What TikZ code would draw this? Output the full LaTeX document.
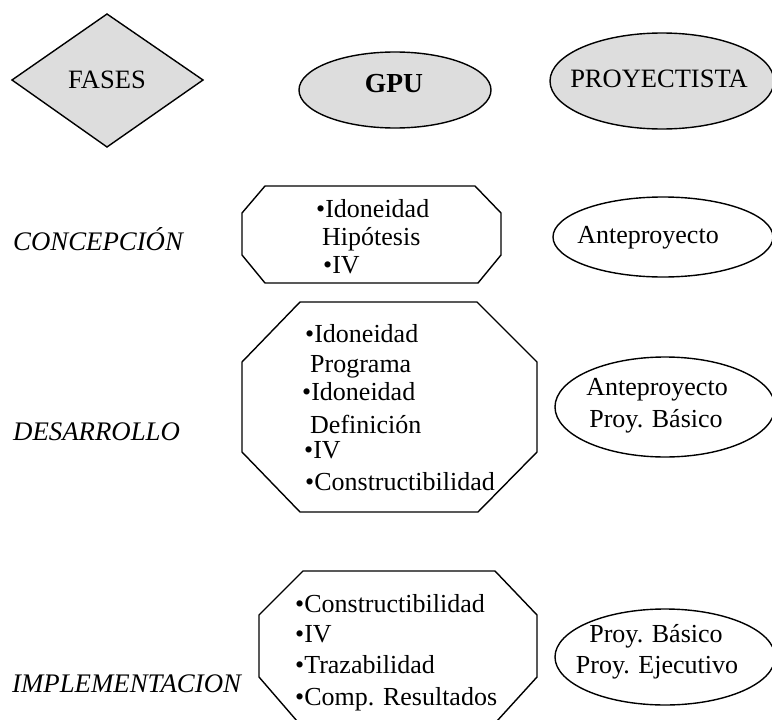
\documentclass[tikz,border=0pt]{standalone}
\usepackage{fontspec}
\setmainfont{Liberation Serif}
\definecolor{shapefill}{RGB}{221,221,221}
\tikzset{
  outline/.style={draw=black, line width=1.4pt, line join=miter},
  head/.style={font=\fontsize{26.5}{30}\selectfont, inner sep=0pt, anchor=base},
  phase/.style={font=\fontsize{26.8}{30}\selectfont\itshape, inner sep=0pt, anchor=base west},
  item/.style={font=\fontsize{26}{30}\selectfont, inner sep=0pt, anchor=base west},
  outcome/.style={font=\fontsize{26}{30}\selectfont, inner sep=0pt, anchor=base},
}
\begin{document}
\begin{tikzpicture}[x=1pt, y=-1pt]
  \useasboundingbox (0,0) rectangle (772,720);

  % column headings
  \draw[outline, fill=shapefill] (12,80) -- (107,14) -- (203,80) -- (107,147) -- cycle;
  \node[head] (fases) at (107,88) {FASES};
  \draw[outline, fill=shapefill] (395,90) ellipse [x radius=96, y radius=38];
  \node[head, font=\fontsize{27.5}{30}\selectfont\bfseries] (gpu) at (394,92) {GPU};
  \draw[outline, fill=shapefill] (662,81) ellipse [x radius=112, y radius=48];
  \node[head] (proy) at (659,87) {PROYECTISTA};

  % phase names
  \node[phase] (concepcion) at (13,250) {CONCEPCIÓN};
  \node[phase] (desarrollo) at (13,440) {DESARROLLO};
  \node[phase] (implementacion) at (12,692) {IMPLEMENTACION};

  % concepción
  \draw[outline] (242,213) -- (265,186) -- (475,186) -- (501,213) -- (501,255)
    -- (478,283) -- (265,283) -- (242,255) -- cycle;
  \node[item] (c1) at (316,217) {•Idoneidad};
  \node[item] (c2) at (322,245) {Hipótesis};
  \node[item] (c3) at (323,273) {•IV};
  \draw[outline] (663,237) ellipse [x radius=110, y radius=40];
  \node[outcome] (ca) at (648,243) {Anteproyecto};

  % desarrollo
  \draw[outline] (242,362) -- (300,302) -- (477,302) -- (537,362) -- (537,452)
    -- (478,512) -- (300,512) -- (242,452) -- cycle;
  \node[item] (d1) at (305,342) {•Idoneidad};
  \node[item] (d2) at (310,372) {Programa};
  \node[item] (d3) at (302,400) {•Idoneidad};
  \node[item] (d4) at (310,433) {Definición};
  \node[item] (d5) at (304,458) {•IV};
  \node[item] (d6) at (305,490) {•Constructibilidad};
  \draw[outline] (665,407) ellipse [x radius=110, y radius=50];
  \node[outcome] (da) at (657,395) {Anteproyecto};
  \node[outcome] (db) at (656,427) {Proy. Básico};

  % implementación
  \draw[outline] (259,615) -- (303,571) -- (495,571) -- (537,615) -- (537,677)
    -- (497,721) -- (297,721) -- (259,677) -- cycle;
  \node[item] (i1) at (295,612) {•Constructibilidad};
  \node[item] (i2) at (295,642) {•IV};
  \node[item] (i3) at (295,673) {•Trazabilidad};
  \node[item] (i4) at (295,705) {•Comp. Resultados};
  \draw[outline] (665,657) ellipse [x radius=110, y radius=48];
  \node[outcome] (ia) at (656,642) {Proy. Básico};
  \node[outcome] (ib) at (657,673) {Proy. Ejecutivo};
\end{tikzpicture}
\end{document}
